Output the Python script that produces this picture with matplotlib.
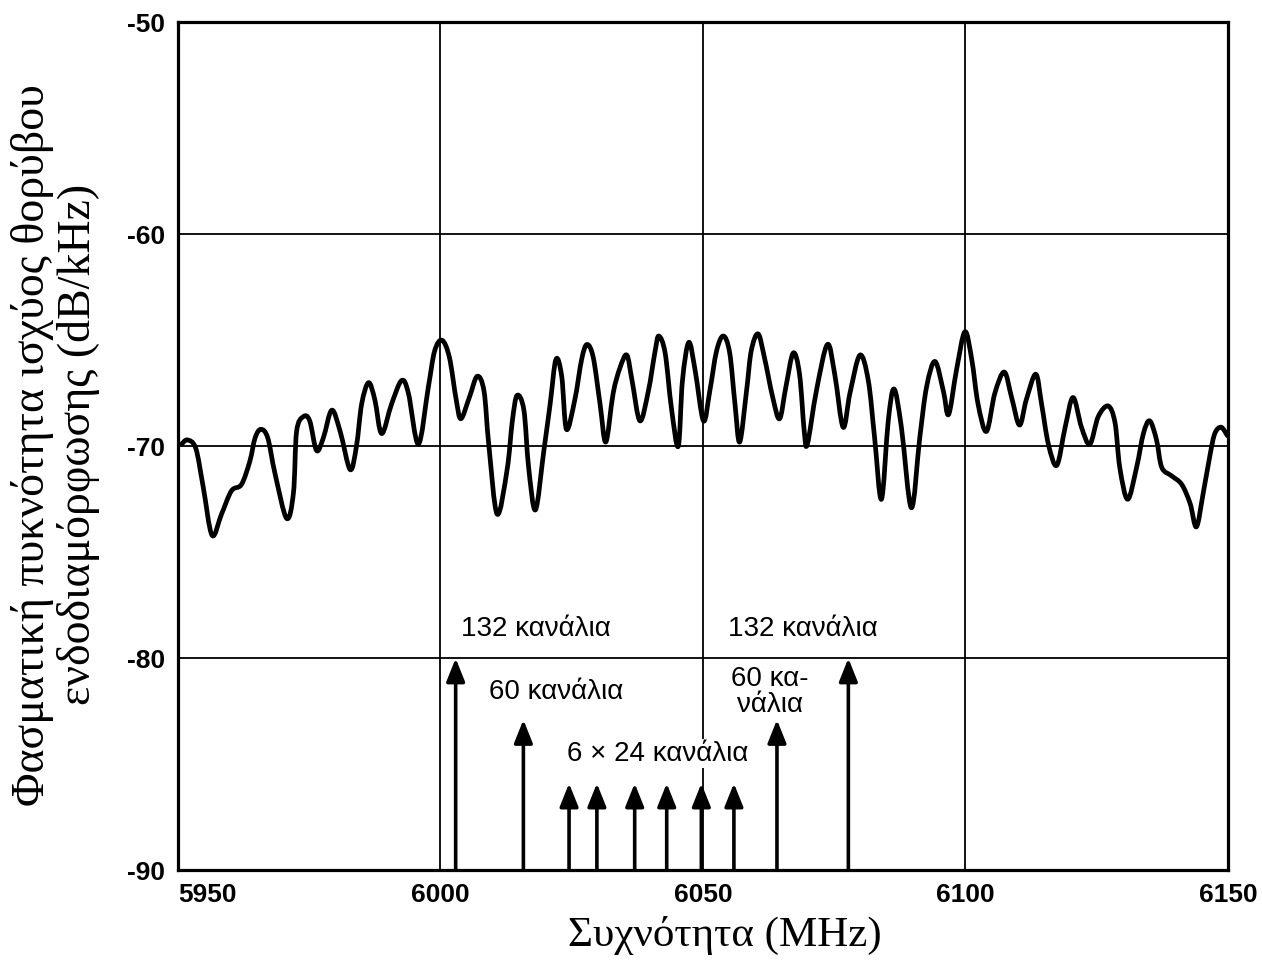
import matplotlib
matplotlib.use("Agg")
import matplotlib.pyplot as plt
from matplotlib.path import Path
from matplotlib.patches import PathPatch

# noise spectrum trace (MHz, dB/kHz)
freq = [5950.7, 5951.8, 5953.4, 5954.8, 5956.5, 5958.3, 5960.2, 5962.1, 5963.7, 5964.7,
        5965.8, 5967.1, 5968.5, 5970.7, 5972.0, 5972.6, 5973.9, 5975.1, 5976.4, 5977.7,
        5979.3, 5980.9, 5982.8, 5984.0, 5985.0, 5986.3, 5987.5, 5988.8, 5990.7, 5992.6,
        5993.9, 5995.8, 5997.7, 5998.9, 6000.3, 6001.7, 6003.0, 6003.9, 6005.5, 6007.0,
        6008.3, 6009.2, 6010.8, 6012.7, 6013.7, 6014.6, 6015.9, 6016.8, 6018.1, 6019.7,
        6020.9, 6022.0, 6023.1, 6024.0, 6025.6, 6026.9, 6027.9, 6029.1, 6030.4, 6031.5,
        6032.9, 6034.2, 6035.5, 6036.5, 6038.0, 6039.6, 6040.9, 6041.6, 6042.8, 6044.0,
        6045.3, 6046.1, 6047.3, 6048.5, 6050.1, 6051.3, 6052.6, 6053.9, 6055.1, 6056.1,
        6057.0, 6058.3, 6059.2, 6060.5, 6061.7, 6063.3, 6064.6, 6065.8, 6067.2, 6068.4,
        6069.3, 6069.9, 6071.6, 6073.7, 6075.1, 6076.7, 6078.0, 6079.9, 6081.5, 6082.7,
        6084.0, 6085.3, 6086.4, 6087.8, 6089.7, 6091.3, 6092.6, 6094.2, 6095.8, 6096.8,
        6098.3, 6099.9, 6101.2, 6102.4, 6104.0, 6105.6, 6107.4, 6108.8, 6110.3, 6111.6,
        6113.4, 6114.5, 6115.8, 6117.4, 6119.0, 6120.5, 6122.1, 6123.7, 6125.3, 6127.2,
        6128.5, 6129.4, 6130.9, 6132.6, 6133.9, 6135.1, 6136.4, 6137.4, 6139.3, 6141.2,
        6142.8, 6144.0, 6145.3, 6146.6, 6147.5, 6148.7, 6149.9]
level = [-69.9, -69.7, -70.1, -71.9, -74.2, -73.2, -72.1, -71.8, -70.7, -69.6,
         -69.2, -69.6, -71.3, -73.4, -72.2, -69.3, -68.6, -68.8, -70.2, -69.6,
         -68.3, -69.3, -71.1, -70.0, -68.0, -67.0, -67.8, -69.4, -68.0, -66.9,
         -67.5, -69.9, -67.2, -65.5, -65.0, -65.8, -67.8, -68.7, -67.7, -66.7,
         -67.4, -69.9, -73.2, -71.1, -68.8, -67.6, -68.3, -71.0, -73.0, -70.2,
         -68.0, -65.9, -66.7, -69.2, -67.8, -65.9, -65.2, -65.8, -68.0, -69.8,
         -67.5, -66.3, -65.7, -66.9, -68.8, -67.4, -65.5, -64.8, -65.6, -68.2,
         -70.0, -66.9, -65.1, -66.4, -68.8, -67.4, -65.5, -64.8, -65.6, -68.0,
         -69.8, -67.4, -65.5, -64.7, -65.8, -67.7, -68.7, -67.2, -65.6, -66.6,
         -69.3, -69.9, -67.4, -65.2, -66.6, -69.1, -67.5, -65.7, -66.9, -69.6,
         -72.5, -68.8, -67.3, -69.1, -72.9, -69.6, -67.2, -66.0, -67.4, -68.5,
         -66.4, -64.6, -65.9, -68.0, -69.3, -67.5, -66.5, -67.7, -69.0, -67.8,
         -66.6, -68.0, -69.9, -70.9, -69.1, -67.7, -69.1, -69.9, -68.6, -68.1,
         -68.9, -71.0, -72.5, -71.0, -69.4, -68.8, -69.7, -71.0, -71.4, -71.8,
         -72.7, -73.8, -72.2, -70.4, -69.4, -69.1, -69.5]

# channel carriers (arrows)
carrier_freq = [6002.9, 6015.8, 6024.5, 6029.8, 6037.0, 6043.1, 6049.7, 6055.9, 6064.1, 6077.7]
carrier_level = [-80.0, -82.9, -85.9, -85.9, -85.9, -85.9, -85.9, -85.9, -82.9, -80.0]

notes = ["132 κανάλια", "132 κανάλια", "60 κανάλια", "60 κα-\nνάλια", "6 × 24 κανάλια"]
note_x = [6018.2, 6069.0, 6022.0, 6062.8, 6041.4]
note_y = [-78.6, -78.6, -81.6, -81.6, -84.5]

xticks = [5950, 6000, 6050, 6100, 6150]
yticks = [-50, -60, -70, -80, -90]


def smooth_path(xs, ys):
    """Catmull-Rom style bezier path that passes through every point."""
    pts = list(zip(xs, ys))
    verts = [pts[0]]
    codes = [Path.MOVETO]
    n = len(pts)
    for i in range(n - 1):
        p0 = pts[max(i - 1, 0)]
        p1 = pts[i]
        p2 = pts[i + 1]
        p3 = pts[min(i + 2, n - 1)]
        c1 = (p1[0] + (p2[0] - p0[0]) / 6, p1[1] + (p2[1] - p0[1]) / 6)
        c2 = (p2[0] - (p3[0] - p1[0]) / 6, p2[1] - (p3[1] - p1[1]) / 6)
        verts += [c1, c2, p2]
        codes += [Path.CURVE4] * 3
    return Path(verts, codes)


fig = plt.figure(figsize=(12.62, 9.67), dpi=100)
ax = fig.add_axes([0.141, 0.100, 0.832, 0.877])

ax.set_xlim(5950, 6150)
ax.set_ylim(-90, -50)
ax.set_xticks(xticks)
ax.set_yticks(yticks)
tick_font = dict(family="Liberation Sans", weight="bold", size=19)
ax.set_xticklabels([str(t) for t in xticks], **tick_font)
ax.set_yticklabels([str(t) for t in yticks], **tick_font)
ax.tick_params(length=0, pad=9)
ax.get_xticklabels()[0].set_horizontalalignment("left")

ax.grid(True, color="black", linewidth=1.3)
ax.set_axisbelow(True)
for sp in ax.spines.values():
    sp.set_linewidth(2.3)

trace = PathPatch(smooth_path(freq, level), facecolor="none", edgecolor="black",
                  linewidth=3.4, joinstyle="round", capstyle="round", zorder=3)
ax.add_patch(trace)

for f, lv in zip(carrier_freq, carrier_level):
    ax.annotate("", xy=(f, lv), xytext=(f, -90),
                arrowprops=dict(arrowstyle="-|>,head_length=0.7,head_width=0.28",
                                color="black", lw=2.6, shrinkA=0, shrinkB=0,
                                mutation_scale=20), zorder=4)

for t, x, y in zip(notes, note_x, note_y):
    bg = dict(facecolor="white", edgecolor="none", pad=1) if "24" in t else None
    ax.text(x, y, t, ha="center", va="center", fontsize=20, family="Liberation Sans",
            linespacing=1.0, bbox=bg, zorder=3)

fig.text(0.574, 0.033, "Συχνότητα (MHz)", ha="center", va="center",
         fontsize=31, family="Liberation Serif")
fig.text(0.044, 0.54, "Φασματική πυκνότητα ισχύος θορύβου\nενδοδιαμόρφωσης (dB/kHz)",
         rotation=90, ha="center", va="center", multialignment="center",
         fontsize=33, family="Liberation Serif", linespacing=1.1)

fig.savefig("out.png", dpi=100)
